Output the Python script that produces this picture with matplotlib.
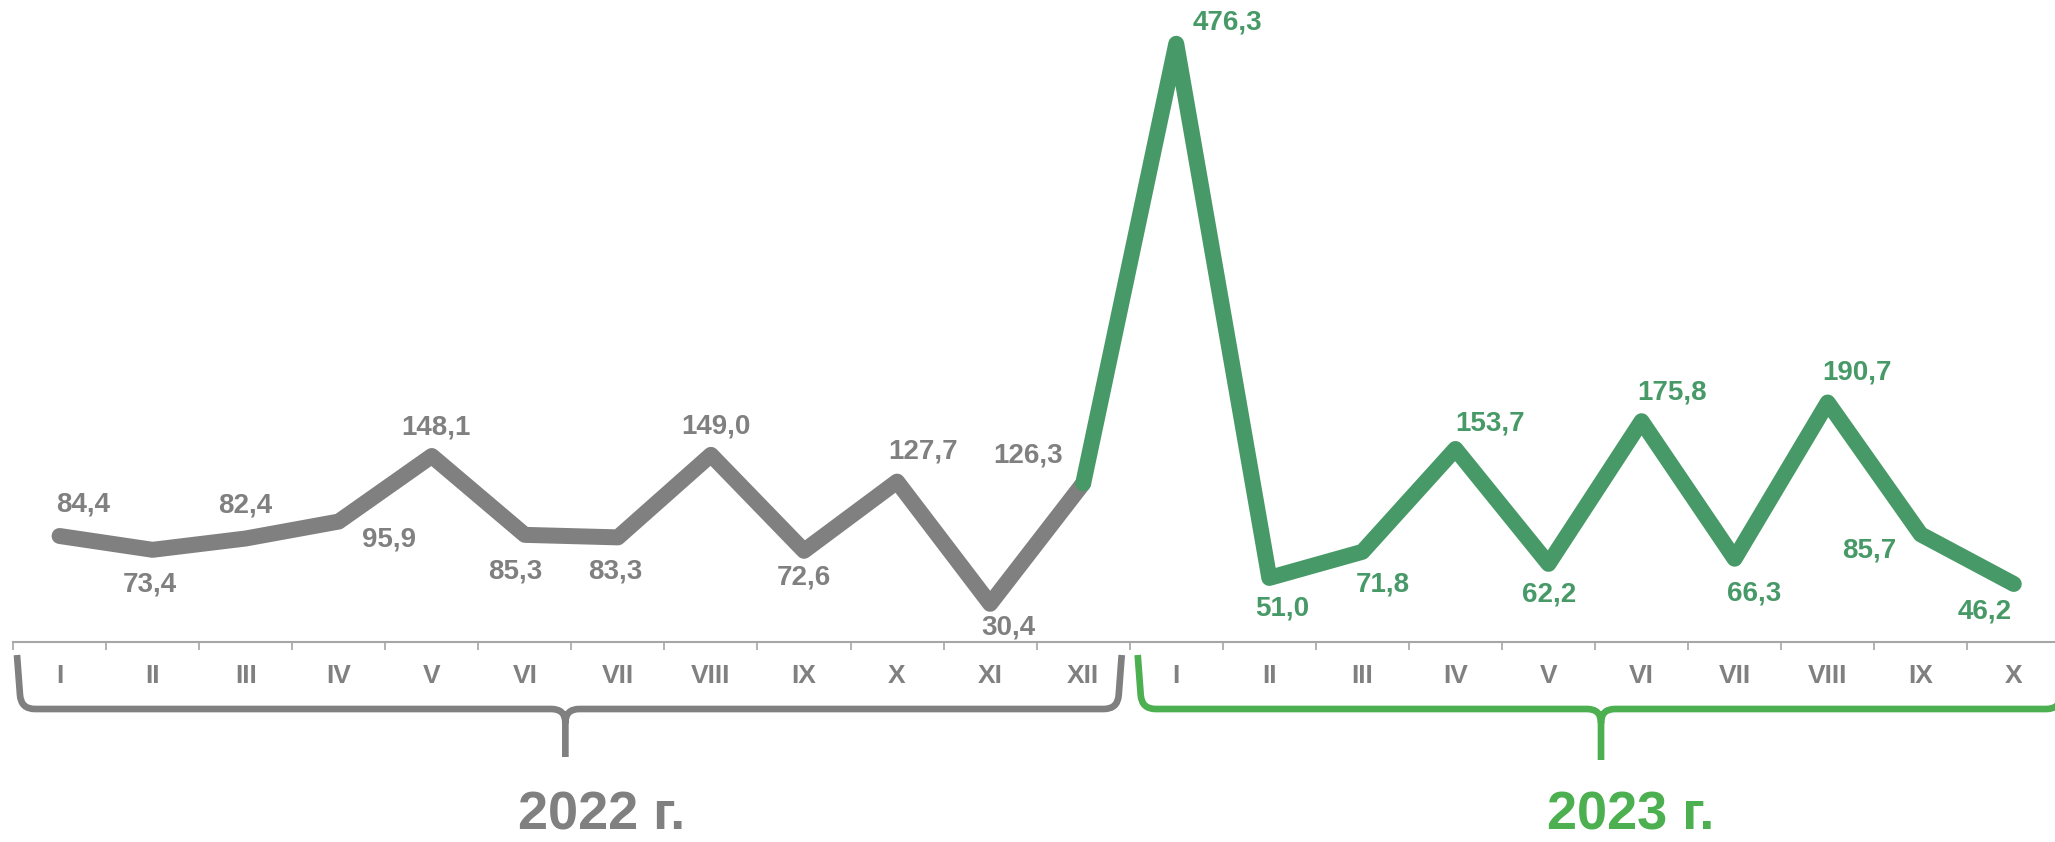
import matplotlib
matplotlib.use("Agg")
import matplotlib.pyplot as plt
from matplotlib.path import Path
from matplotlib.patches import PathPatch
import numpy as np

# ---- data ----
months_2022 = ["I", "II", "III", "IV", "V", "VI", "VII", "VIII", "IX", "X", "XI", "XII"]
values_2022 = [84.4, 73.4, 82.4, 95.9, 148.1, 85.3, 83.3, 149.0, 72.6, 127.7, 30.4, 126.3]
months_2023 = ["I", "II", "III", "IV", "V", "VI", "VII", "VIII", "IX", "X"]
values_2023 = [476.3, 51.0, 71.8, 153.7, 62.2, 175.8, 66.3, 190.7, 85.7, 46.2]
year_labels = ["2022 г.", "2023 г."]

# label offsets in pixels (dx, dy; dy positive = up)
offs_2022 = [(24, 31), (-3, -35), (0, 33), (50, -18), (4, 28), (-10, -37),
             (-3, -34), (5, 28), (0, -27), (26, 30), (18, -24), (-55, 28)]
offs_2023 = [(51, 21), (13, -31), (20, -33), (35, 25), (1, -31), (31, 29),
             (20, -35), (29, 30), (-51, -16), (-29, -28)]

GRAY = "#808080"
GREEN_LINE = "#479a67"
GREEN_BRIGHT = "#4caf50"
AXIS_GRAY = "#a6a6a6"

FONT = ["Liberation Sans Narrow", "Liberation Sans", "DejaVu Sans"]

W, H = 2055, 842
fig = plt.figure(figsize=(W / 100, H / 100), dpi=100)
fig.patch.set_facecolor("white")

n1, n2 = len(values_2022), len(values_2023)
n = n1 + n2
cat_w = 93.06
ax = fig.add_axes([13 / W, 200 / H, n * cat_w / W, 628 / H])
ax.set_xlim(-0.5, n - 0.5)
ax.set_ylim(0, 500)

x1 = np.arange(n1)
x2 = np.arange(n1, n)

LW = 11.5
ax.plot(x1, values_2022, color=GRAY, lw=LW, solid_capstyle="round",
        solid_joinstyle="round", zorder=3)
ax.plot(np.concatenate([[x1[-1]], x2]), [values_2022[-1]] + values_2023,
        color=GREEN_LINE, lw=LW, solid_capstyle="round",
        solid_joinstyle="round", zorder=3)

for xi, v, (dx, dy) in zip(x1, values_2022, offs_2022):
    ax.annotate(f"{v:.1f}".replace(".", ","), (xi, v), xytext=(dx, dy),
                textcoords="offset pixels", ha="center", va="center",
                fontsize=20, fontweight="bold", color=GRAY, family=FONT,
                annotation_clip=False)
for xi, v, (dx, dy) in zip(x2, values_2023, offs_2023):
    ax.annotate(f"{v:.1f}".replace(".", ","), (xi, v), xytext=(dx, dy),
                textcoords="offset pixels", ha="center", va="center",
                fontsize=20, fontweight="bold", color=GREEN_LINE, family=FONT,
                annotation_clip=False)

# axes styling
for s in ["top", "right", "left"]:
    ax.spines[s].set_visible(False)
ax.spines["bottom"].set_color(AXIS_GRAY)
ax.spines["bottom"].set_linewidth(1.5)
ax.set_yticks([])
ax.set_xticks(np.arange(n))
ax.set_xticklabels(months_2022 + months_2023, color=GRAY, fontsize=19,
                   fontweight="bold", family=FONT)
ax.set_xticks(np.arange(-0.5, n, 1.0), minor=True)
ax.tick_params(axis="x", which="major", length=0, pad=16)
ax.tick_params(axis="x", which="minor", length=6, width=1.2, color=AXIS_GRAY,
               direction="out")

# ---- brackets (overlay in pixel coordinates) ----
ov = fig.add_axes([0, 0, 1, 1])
ov.set_xlim(0, W)
ov.set_ylim(0, H)
ov.axis("off")
ov.patch.set_alpha(0)


def px(xd):
    return ax.transData.transform((xd, 0))[0]


def bracket(xl, xr, cx, ytop, yh, ybot, r, color, lw):
    verts = [
        (xl, ytop), (xl + 3, yh + r), (xl + 4, yh), (xl + r + 4, yh),
        (cx - r, yh), (cx, yh), (cx, yh - r), (cx, ybot),
        (xr, ytop), (xr - 3, yh + r), (xr - 4, yh), (xr - r - 4, yh),
        (cx + r, yh), (cx, yh), (cx, yh - r),
    ]
    codes = [
        Path.MOVETO, Path.LINETO, Path.CURVE3, Path.CURVE3,
        Path.LINETO, Path.CURVE3, Path.CURVE3, Path.LINETO,
        Path.MOVETO, Path.LINETO, Path.CURVE3, Path.CURVE3,
        Path.LINETO, Path.CURVE3, Path.CURVE3,
    ]
    ov.add_patch(PathPatch(Path(verts, codes), fill=False, edgecolor=color,
                           lw=lw, capstyle="butt", joinstyle="round"))


yh = H - 709
bracket(px(-0.5) + 4, px(n1 - 0.5) - 8, px((n1 - 1) / 2) - 6,
        H - 655, yh, H - 757, 14, GRAY, 4.8)
bracket(px(n1 - 0.5) + 8, px(n - 0.5) + 4, px(n1 + (n2 - 1) / 2) + 6,
        H - 655, yh, H - 760, 14, GREEN_BRIGHT, 4.8)

ov.text(px((n1 - 1) / 2) + 30, H - 829, year_labels[0], ha="center",
        va="baseline", fontsize=39, fontweight="bold", color=GRAY, family=FONT)
ov.text(px(n1 + (n2 - 1) / 2) + 36, H - 829, year_labels[1], ha="center",
        va="baseline", fontsize=39, fontweight="bold", color=GREEN_BRIGHT,
        family=FONT)

fig.savefig("out.png", dpi=100, facecolor="white")
